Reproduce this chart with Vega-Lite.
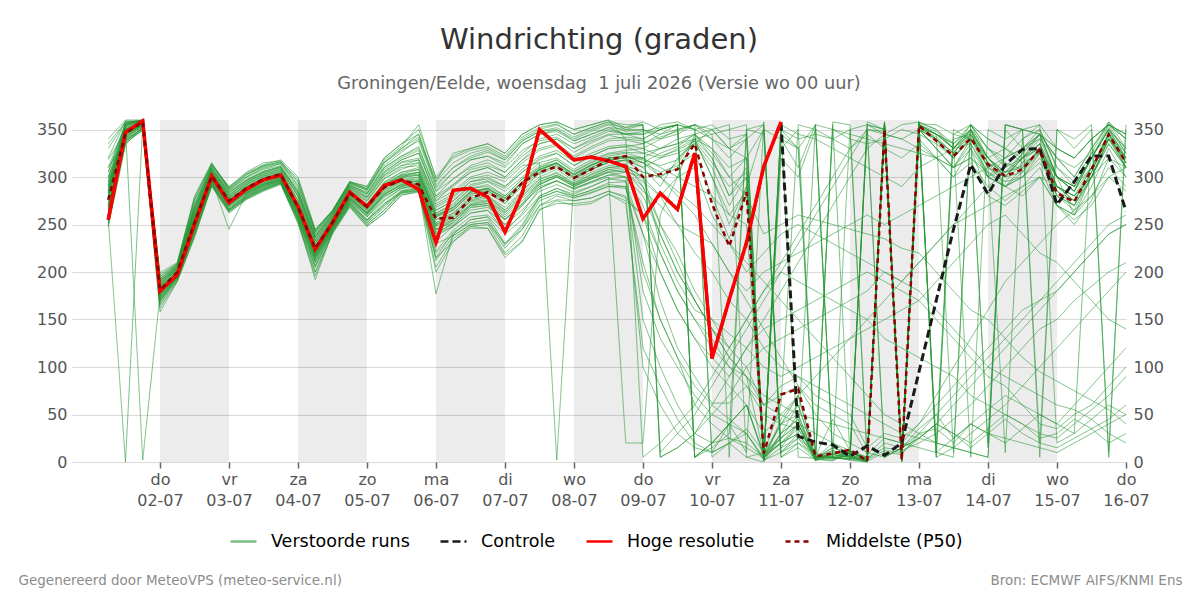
{
"$schema":"https://vega.github.io/schema/vega-lite/v6.json",
"width":1054,"height":342,
"autosize":{"type":"none"},
"padding":{"left":72,"top":120,"right":74,"bottom":138},
"background":"white",
"title":{"text":"Windrichting (graden)","subtitle":"Groningen/Eelde, woensdag\u00a0 1 juli 2026 (Versie wo 00 uur)","anchor":"middle","fontSize":29,"font":"DejaVu Sans","fontWeight":"normal","color":"#333333","subtitleFontSize":17.8,"subtitleFont":"DejaVu Sans","subtitleColor":"#666666","offset":21,"subtitlePadding":20},
"data":{"values":[
{"t":"2026-07-01T06:00Z","hr":255,"c":255,"p":276,"e1":285,"e2":262,"e3":300,"e4":248,"e5":256,"e6":290,"e7":335,"e8":255,"e9":280,"e10":270,"e11":310,"e12":250,"e13":278,"e14":295,"e15":265,"e16":283,"e17":292,"e18":260,"e19":320,"e20":272,"e21":287,"e22":258,"e23":305,"e24":268,"e25":277,"e26":340,"e27":282,"e28":266,"e29":298,"e30":252,"e31":292,"e32":270,"e33":305,"e34":262,"e35":285,"e36":318,"e37":248,"e38":276,"e39":300,"e40":288,"e41":265,"e42":330,"e43":279,"e44":295,"e45":258,"e46":284,"e47":310,"e48":272,"e49":290,"e50":268},
{"t":"2026-07-01T12:00Z","hr":347,"c":347,"p":346,"e1":348,"e2":340,"e3":355,"e4":335,"e5":0,"e6":350,"e7":358,"e8":338,"e9":352,"e10":345,"e11":356,"e12":342,"e13":347,"e14":353,"e15":336,"e16":349,"e17":357,"e18":341,"e19":359,"e20":344,"e21":351,"e22":339,"e23":355,"e24":346,"e25":348,"e26":360,"e27":350,"e28":343,"e29":354,"e30":337,"e31":350,"e32":344,"e33":357,"e34":339,"e35":353,"e36":348,"e37":334,"e38":355,"e39":346,"e40":352,"e41":341,"e42":358,"e43":349,"e44":343,"e45":356,"e46":347,"e47":338,"e48":351,"e49":354,"e50":345},
{"t":"2026-07-01T18:00Z","hr":359,"c":359,"p":358,"e1":358,"e2":354,"e3":360,"e4":350,"e5":355,"e6":357,"e7":359,"e8":352,"e9":2,"e10":356,"e11":360,"e12":353,"e13":358,"e14":359,"e15":349,"e16":357,"e17":360,"e18":355,"e19":359,"e20":356,"e21":358,"e22":351,"e23":360,"e24":354,"e25":357,"e26":360,"e27":358,"e28":355,"e29":359,"e30":352,"e31":357,"e32":355,"e33":359,"e34":351,"e35":358,"e36":356,"e37":353,"e38":360,"e39":354,"e40":357,"e41":350,"e42":359,"e43":358,"e44":352,"e45":360,"e46":355,"e47":349,"e48":357,"e49":359,"e50":354},
{"t":"2026-07-02T00:00Z","hr":180,"c":180,"p":181,"e1":182,"e2":175,"e3":190,"e4":168,"e5":178,"e6":185,"e7":195,"e8":172,"e9":176,"e10":180,"e11":188,"e12":165,"e13":183,"e14":192,"e15":170,"e16":181,"e17":189,"e18":174,"e19":197,"e20":179,"e21":186,"e22":162,"e23":191,"e24":177,"e25":184,"e26":199,"e27":181,"e28":173,"e29":187,"e30":170,"e31":185,"e32":172,"e33":193,"e34":158,"e35":180,"e36":176,"e37":188,"e38":170,"e39":195,"e40":182,"e41":166,"e42":190,"e43":178,"e44":174,"e45":186,"e46":181,"e47":169,"e48":192,"e49":177,"e50":184},
{"t":"2026-07-02T06:00Z","hr":197,"c":197,"p":200,"e1":201,"e2":197,"e3":205,"e4":193,"e5":199,"e6":203,"e7":208,"e8":195,"e9":198,"e10":200,"e11":206,"e12":191,"e13":202,"e14":207,"e15":194,"e16":200,"e17":204,"e18":196,"e19":209,"e20":198,"e21":203,"e22":190,"e23":206,"e24":197,"e25":201,"e26":210,"e27":200,"e28":195,"e29":204,"e30":193,"e31":203,"e32":196,"e33":207,"e34":190,"e35":200,"e36":198,"e37":205,"e38":194,"e39":209,"e40":201,"e41":192,"e42":206,"e43":199,"e44":197,"e45":204,"e46":202,"e47":195,"e48":208,"e49":198,"e50":200},
{"t":"2026-07-02T12:00Z","hr":250,"c":250,"p":252,"e1":255,"e2":248,"e3":265,"e4":240,"e5":252,"e6":258,"e7":275,"e8":244,"e9":250,"e10":256,"e11":268,"e12":238,"e13":254,"e14":270,"e15":246,"e16":253,"e17":262,"e18":249,"e19":280,"e20":251,"e21":259,"e22":236,"e23":266,"e24":250,"e25":255,"e26":278,"e27":254,"e28":247,"e29":263,"e30":243,"e31":260,"e32":245,"e33":272,"e34":238,"e35":255,"e36":250,"e37":268,"e38":242,"e39":276,"e40":258,"e41":240,"e42":265,"e43":252,"e44":248,"e45":262,"e46":256,"e47":244,"e48":270,"e49":251,"e50":257},
{"t":"2026-07-02T18:00Z","hr":301,"c":301,"p":301,"e1":302,"e2":298,"e3":308,"e4":292,"e5":300,"e6":304,"e7":313,"e8":295,"e9":301,"e10":303,"e11":310,"e12":290,"e13":302,"e14":312,"e15":296,"e16":300,"e17":306,"e18":297,"e19":315,"e20":299,"e21":305,"e22":291,"e23":309,"e24":298,"e25":303,"e26":314,"e27":301,"e28":296,"e29":307,"e30":294,"e31":305,"e32":296,"e33":311,"e34":292,"e35":302,"e36":299,"e37":309,"e38":294,"e39":314,"e40":303,"e41":291,"e42":308,"e43":300,"e44":297,"e45":306,"e46":304,"e47":293,"e48":312,"e49":298,"e50":301},
{"t":"2026-07-03T00:00Z","hr":273,"c":273,"p":275,"e1":276,"e2":270,"e3":282,"e4":265,"e5":274,"e6":278,"e7":288,"e8":268,"e9":275,"e10":273,"e11":285,"e12":262,"e13":276,"e14":290,"e15":266,"e16":272,"e17":280,"e18":245,"e19":287,"e20":271,"e21":279,"e22":264,"e23":284,"e24":270,"e25":275,"e26":289,"e27":273,"e28":269,"e29":281,"e30":266,"e31":279,"e32":268,"e33":286,"e34":263,"e35":276,"e36":272,"e37":284,"e38":266,"e39":289,"e40":278,"e41":264,"e42":283,"e43":274,"e44":270,"e45":281,"e46":277,"e47":265,"e48":287,"e49":271,"e50":275},
{"t":"2026-07-03T06:00Z","hr":287,"c":287,"p":288,"e1":290,"e2":283,"e3":296,"e4":278,"e5":287,"e6":292,"e7":302,"e8":280,"e9":288,"e10":286,"e11":299,"e12":276,"e13":289,"e14":304,"e15":281,"e16":285,"e17":295,"e18":282,"e19":300,"e20":284,"e21":293,"e22":277,"e23":297,"e24":283,"e25":289,"e26":305,"e27":287,"e28":282,"e29":294,"e30":279,"e31":291,"e32":281,"e33":300,"e34":277,"e35":289,"e36":285,"e37":297,"e38":279,"e39":303,"e40":292,"e41":278,"e42":296,"e43":287,"e44":283,"e45":294,"e46":290,"e47":280,"e48":302,"e49":284,"e50":288},
{"t":"2026-07-03T12:00Z","hr":297,"c":297,"p":298,"e1":298,"e2":292,"e3":305,"e4":287,"e5":296,"e6":301,"e7":312,"e8":289,"e9":297,"e10":295,"e11":308,"e12":285,"e13":299,"e14":313,"e15":290,"e16":294,"e17":303,"e18":291,"e19":310,"e20":293,"e21":302,"e22":286,"e23":306,"e24":292,"e25":298,"e26":315,"e27":296,"e28":291,"e29":304,"e30":288,"e31":300,"e32":290,"e33":309,"e34":286,"e35":298,"e36":294,"e37":306,"e38":288,"e39":312,"e40":301,"e41":287,"e42":305,"e43":296,"e44":292,"e45":303,"e46":299,"e47":289,"e48":311,"e49":293,"e50":297},
{"t":"2026-07-03T18:00Z","hr":302,"c":302,"p":303,"e1":303,"e2":298,"e3":310,"e4":293,"e5":301,"e6":306,"e7":316,"e8":295,"e9":302,"e10":300,"e11":312,"e12":292,"e13":304,"e14":318,"e15":296,"e16":299,"e17":308,"e18":297,"e19":314,"e20":298,"e21":307,"e22":294,"e23":311,"e24":297,"e25":303,"e26":317,"e27":301,"e28":296,"e29":309,"e30":294,"e31":305,"e32":297,"e33":314,"e34":293,"e35":303,"e36":299,"e37":311,"e38":295,"e39":316,"e40":306,"e41":294,"e42":310,"e43":301,"e44":298,"e45":308,"e46":304,"e47":296,"e48":315,"e49":300,"e50":302},
{"t":"2026-07-04T00:00Z","hr":269,"c":269,"p":268,"e1":270,"e2":262,"e3":282,"e4":255,"e5":268,"e6":275,"e7":290,"e8":258,"e9":269,"e10":266,"e11":285,"e12":252,"e13":271,"e14":300,"e15":260,"e16":265,"e17":279,"e18":263,"e19":288,"e20":264,"e21":276,"e22":254,"e23":283,"e24":262,"e25":270,"e26":295,"e27":267,"e28":261,"e29":280,"e30":257,"e31":272,"e32":258,"e33":292,"e34":251,"e35":268,"e36":262,"e37":286,"e38":256,"e39":298,"e40":275,"e41":254,"e42":284,"e43":266,"e44":260,"e45":280,"e46":270,"e47":257,"e48":295,"e49":264,"e50":269},
{"t":"2026-07-04T06:00Z","hr":224,"c":224,"p":225,"e1":226,"e2":218,"e3":236,"e4":205,"e5":224,"e6":230,"e7":243,"e8":212,"e9":225,"e10":221,"e11":238,"e12":200,"e13":227,"e14":245,"e15":214,"e16":220,"e17":233,"e18":216,"e19":240,"e20":219,"e21":231,"e22":192,"e23":237,"e24":217,"e25":226,"e26":244,"e27":222,"e28":215,"e29":234,"e30":210,"e31":228,"e32":210,"e33":241,"e34":196,"e35":224,"e36":216,"e37":238,"e38":205,"e39":244,"e40":230,"e41":200,"e42":236,"e43":220,"e44":213,"e45":233,"e46":226,"e47":207,"e48":242,"e49":218,"e50":223},
{"t":"2026-07-04T12:00Z","hr":252,"c":252,"p":252,"e1":253,"e2":248,"e3":260,"e4":243,"e5":251,"e6":256,"e7":264,"e8":245,"e9":252,"e10":250,"e11":262,"e12":240,"e13":254,"e14":265,"e15":246,"e16":249,"e17":258,"e18":247,"e19":263,"e20":248,"e21":257,"e22":242,"e23":261,"e24":247,"e25":253,"e26":264,"e27":251,"e28":246,"e29":259,"e30":244,"e31":255,"e32":245,"e33":263,"e34":241,"e35":252,"e36":248,"e37":261,"e38":243,"e39":265,"e40":256,"e41":242,"e42":260,"e43":250,"e44":247,"e45":258,"e46":254,"e47":244,"e48":264,"e49":249,"e50":253},
{"t":"2026-07-04T18:00Z","hr":284,"c":284,"p":283,"e1":283,"e2":278,"e3":290,"e4":270,"e5":281,"e6":286,"e7":294,"e8":273,"e9":282,"e10":280,"e11":292,"e12":268,"e13":284,"e14":295,"e15":275,"e16":279,"e17":288,"e18":276,"e19":293,"e20":277,"e21":287,"e22":271,"e23":291,"e24":277,"e25":283,"e26":295,"e27":281,"e28":275,"e29":289,"e30":272,"e31":285,"e32":274,"e33":294,"e34":269,"e35":282,"e36":278,"e37":291,"e38":272,"e39":295,"e40":286,"e41":270,"e42":290,"e43":280,"e44":276,"e45":288,"e46":284,"e47":273,"e48":293,"e49":279,"e50":283},
{"t":"2026-07-05T00:00Z","hr":269,"c":269,"p":269,"e1":270,"e2":262,"e3":280,"e4":250,"e5":266,"e6":275,"e7":288,"e8":255,"e9":268,"e10":264,"e11":283,"e12":248,"e13":271,"e14":290,"e15":258,"e16":263,"e17":278,"e18":260,"e19":286,"e20":262,"e21":276,"e22":252,"e23":282,"e24":261,"e25":269,"e26":287,"e27":266,"e28":259,"e29":279,"e30":254,"e31":272,"e32":255,"e33":288,"e34":248,"e35":267,"e36":262,"e37":284,"e38":252,"e39":290,"e40":274,"e41":250,"e42":282,"e43":265,"e44":258,"e45":278,"e46":270,"e47":254,"e48":286,"e49":261,"e50":268},
{"t":"2026-07-05T06:00Z","hr":291,"c":291,"p":289,"e1":292,"e2":283,"e3":305,"e4":265,"e5":290,"e6":298,"e7":318,"e8":275,"e9":291,"e10":287,"e11":310,"e12":262,"e13":294,"e14":320,"e15":278,"e16":285,"e17":302,"e18":281,"e19":315,"e20":284,"e21":300,"e22":270,"e23":308,"e24":282,"e25":292,"e26":316,"e27":288,"e28":280,"e29":304,"e30":272,"e31":295,"e32":270,"e33":315,"e34":262,"e35":290,"e36":282,"e37":310,"e38":268,"e39":320,"e40":298,"e41":265,"e42":306,"e43":286,"e44":276,"e45":302,"e46":293,"e47":272,"e48":312,"e49":280,"e50":289},
{"t":"2026-07-05T12:00Z","hr":297,"c":297,"p":297,"e1":302,"e2":292,"e3":318,"e4":284,"e5":300,"e6":310,"e7":332,"e8":288,"e9":301,"e10":296,"e11":322,"e12":281,"e13":305,"e14":335,"e15":290,"e16":295,"e17":315,"e18":293,"e19":328,"e20":294,"e21":312,"e22":285,"e23":320,"e24":291,"e25":302,"e26":330,"e27":298,"e28":289,"e29":316,"e30":283,"e31":305,"e32":285,"e33":330,"e34":281,"e35":300,"e36":292,"e37":322,"e38":284,"e39":335,"e40":308,"e41":283,"e42":318,"e43":296,"e44":288,"e45":312,"e46":303,"e47":286,"e48":326,"e49":290,"e50":299},
{"t":"2026-07-05T18:00Z","hr":287,"c":287,"p":292,"e1":305,"e2":292,"e3":325,"e4":286,"e5":302,"e6":312,"e7":355,"e8":290,"e9":303,"e10":298,"e11":330,"e12":284,"e13":308,"e14":345,"e15":294,"e16":297,"e17":318,"e18":296,"e19":338,"e20":295,"e21":315,"e22":288,"e23":328,"e24":293,"e25":305,"e26":342,"e27":300,"e28":291,"e29":320,"e30":285,"e31":310,"e32":288,"e33":345,"e34":285,"e35":305,"e36":296,"e37":332,"e38":287,"e39":350,"e40":315,"e41":286,"e42":325,"e43":300,"e44":292,"e45":318,"e46":308,"e47":289,"e48":340,"e49":294,"e50":302},
{"t":"2026-07-06T00:00Z","hr":231,"c":231,"p":256,"e1":260,"e2":248,"e3":278,"e4":230,"e5":258,"e6":265,"e7":298,"e8":238,"e9":259,"e10":252,"e11":285,"e12":215,"e13":262,"e14":290,"e15":242,"e16":250,"e17":272,"e18":245,"e19":288,"e20":249,"e21":268,"e22":177,"e23":280,"e24":244,"e25":260,"e26":295,"e27":255,"e28":240,"e29":275,"e30":222,"e31":265,"e32":220,"e33":295,"e34":200,"e35":258,"e36":245,"e37":285,"e38":212,"e39":300,"e40":270,"e41":205,"e42":280,"e43":250,"e44":232,"e45":275,"e46":262,"e47":215,"e48":292,"e49":240,"e50":255},
{"t":"2026-07-06T06:00Z","hr":286,"c":286,"p":257,"e1":268,"e2":255,"e3":290,"e4":238,"e5":265,"e6":275,"e7":320,"e8":248,"e9":266,"e10":260,"e11":298,"e12":232,"e13":270,"e14":310,"e15":250,"e16":258,"e17":282,"e18":252,"e19":305,"e20":257,"e21":278,"e22":240,"e23":292,"e24":254,"e25":268,"e26":325,"e27":262,"e28":248,"e29":285,"e30":244,"e31":275,"e32":240,"e33":315,"e34":232,"e35":268,"e36":255,"e37":305,"e38":238,"e39":322,"e40":280,"e41":235,"e42":298,"e43":262,"e44":248,"e45":292,"e46":272,"e47":242,"e48":310,"e49":252,"e50":265},
{"t":"2026-07-06T12:00Z","hr":288,"c":288,"p":278,"e1":285,"e2":272,"e3":305,"e4":250,"e5":282,"e6":292,"e7":328,"e8":262,"e9":284,"e10":278,"e11":312,"e12":248,"e13":288,"e14":320,"e15":265,"e16":275,"e17":298,"e18":270,"e19":318,"e20":274,"e21":295,"e22":255,"e23":308,"e24":271,"e25":285,"e26":330,"e27":280,"e28":268,"e29":300,"e30":258,"e31":290,"e32":255,"e33":325,"e34":246,"e35":284,"e36":270,"e37":318,"e38":250,"e39":330,"e40":295,"e41":248,"e42":310,"e43":276,"e44":262,"e45":305,"e46":288,"e47":252,"e48":322,"e49":268,"e50":282},
{"t":"2026-07-06T18:00Z","hr":279,"c":279,"p":284,"e1":288,"e2":275,"e3":310,"e4":252,"e5":285,"e6":296,"e7":332,"e8":265,"e9":287,"e10":280,"e11":318,"e12":246,"e13":290,"e14":326,"e15":268,"e16":278,"e17":302,"e18":272,"e19":322,"e20":276,"e21":298,"e22":258,"e23":312,"e24":274,"e25":288,"e26":335,"e27":283,"e28":270,"e29":305,"e30":260,"e31":295,"e32":258,"e33":330,"e34":246,"e35":288,"e36":272,"e37":322,"e38":252,"e39":335,"e40":300,"e41":250,"e42":315,"e43":280,"e44":265,"e45":310,"e46":292,"e47":255,"e48":328,"e49":270,"e50":286},
{"t":"2026-07-07T00:00Z","hr":242,"c":242,"p":274,"e1":278,"e2":262,"e3":300,"e4":230,"e5":275,"e6":288,"e7":322,"e8":250,"e9":277,"e10":268,"e11":310,"e12":218,"e13":280,"e14":318,"e15":255,"e16":265,"e17":295,"e18":258,"e19":315,"e20":263,"e21":290,"e22":240,"e23":305,"e24":260,"e25":278,"e26":325,"e27":272,"e28":256,"e29":298,"e30":245,"e31":285,"e32":230,"e33":320,"e34":215,"e35":275,"e36":255,"e37":312,"e38":225,"e39":325,"e40":290,"e41":220,"e42":305,"e43":265,"e44":242,"e45":300,"e46":280,"e47":228,"e48":318,"e49":250,"e50":272},
{"t":"2026-07-07T06:00Z","hr":283,"c":283,"p":294,"e1":295,"e2":280,"e3":318,"e4":245,"e5":292,"e6":305,"e7":342,"e8":265,"e9":294,"e10":286,"e11":328,"e12":232,"e13":298,"e14":338,"e15":270,"e16":283,"e17":312,"e18":275,"e19":335,"e20":281,"e21":308,"e22":255,"e23":322,"e24":278,"e25":295,"e26":345,"e27":290,"e28":272,"e29":315,"e30":260,"e31":300,"e32":250,"e33":340,"e34":232,"e35":295,"e36":272,"e37":335,"e38":245,"e39":345,"e40":305,"e41":238,"e42":325,"e43":285,"e44":262,"e45":318,"e46":298,"e47":248,"e48":338,"e49":270,"e50":292},
{"t":"2026-07-07T12:00Z","hr":350,"c":350,"p":305,"e1":308,"e2":295,"e3":330,"e4":270,"e5":305,"e6":318,"e7":352,"e8":285,"e9":307,"e10":300,"e11":338,"e12":265,"e13":310,"e14":348,"e15":290,"e16":298,"e17":315,"e18":292,"e19":345,"e20":297,"e21":322,"e22":278,"e23":335,"e24":293,"e25":308,"e26":355,"e27":303,"e28":288,"e29":328,"e30":280,"e31":315,"e32":280,"e33":350,"e34":266,"e35":310,"e36":295,"e37":345,"e38":275,"e39":355,"e40":320,"e41":270,"e42":340,"e43":305,"e44":288,"e45":335,"e46":312,"e47":278,"e48":348,"e49":292,"e50":308},
{"t":"2026-07-07T18:00Z","hr":334,"c":334,"p":311,"e1":315,"e2":302,"e3":335,"e4":280,"e5":312,"e6":325,"e7":356,"e8":292,"e9":314,"e10":308,"e11":342,"e12":275,"e13":318,"e14":350,"e15":296,"e16":305,"e17":2,"e18":300,"e19":348,"e20":304,"e21":328,"e22":285,"e23":340,"e24":301,"e25":315,"e26":358,"e27":310,"e28":296,"e29":333,"e30":288,"e31":320,"e32":288,"e33":355,"e34":272,"e35":315,"e36":302,"e37":350,"e38":282,"e39":358,"e40":325,"e41":276,"e42":345,"e43":312,"e44":296,"e45":340,"e46":318,"e47":285,"e48":352,"e49":300,"e50":314},
{"t":"2026-07-08T00:00Z","hr":318,"c":318,"p":299,"e1":303,"e2":292,"e3":322,"e4":275,"e5":300,"e6":312,"e7":345,"e8":284,"e9":302,"e10":296,"e11":330,"e12":270,"e13":306,"e14":340,"e15":288,"e16":294,"e17":298,"e18":290,"e19":338,"e20":293,"e21":316,"e22":278,"e23":326,"e24":291,"e25":303,"e26":350,"e27":299,"e28":287,"e29":320,"e30":280,"e31":308,"e32":282,"e33":345,"e34":272,"e35":302,"e36":292,"e37":338,"e38":278,"e39":350,"e40":312,"e41":275,"e42":335,"e43":298,"e44":288,"e45":330,"e46":305,"e47":280,"e48":342,"e49":290,"e50":300},
{"t":"2026-07-08T06:00Z","hr":321,"c":321,"p":308,"e1":313,"e2":300,"e3":332,"e4":278,"e5":310,"e6":322,"e7":352,"e8":290,"e9":312,"e10":305,"e11":340,"e12":272,"e13":316,"e14":348,"e15":295,"e16":303,"e17":308,"e18":298,"e19":345,"e20":302,"e21":325,"e22":283,"e23":336,"e24":299,"e25":313,"e26":355,"e27":308,"e28":294,"e29":330,"e30":286,"e31":318,"e32":290,"e33":352,"e34":274,"e35":312,"e36":300,"e37":345,"e38":284,"e39":355,"e40":322,"e41":278,"e42":342,"e43":308,"e44":295,"e45":338,"e46":315,"e47":286,"e48":350,"e49":298,"e50":310},
{"t":"2026-07-08T12:00Z","hr":317,"c":317,"p":318,"e1":320,"e2":308,"e3":340,"e4":285,"e5":318,"e6":330,"e7":358,"e8":298,"e9":320,"e10":312,"e11":348,"e12":282,"e13":324,"e14":355,"e15":302,"e16":310,"e17":315,"e18":305,"e19":352,"e20":310,"e21":332,"e22":290,"e23":344,"e24":306,"e25":320,"e26":360,"e27":316,"e28":300,"e29":338,"e30":292,"e31":325,"e32":298,"e33":358,"e34":282,"e35":320,"e36":308,"e37":352,"e38":290,"e39":360,"e40":330,"e41":285,"e42":350,"e43":315,"e44":302,"e45":345,"e46":322,"e47":294,"e48":356,"e49":305,"e50":318},
{"t":"2026-07-08T18:00Z","hr":311,"c":311,"p":322,"e1":322,"e2":310,"e3":342,"e4":278,"e5":320,"e6":332,"e7":350,"e8":296,"e9":321,"e10":314,"e11":346,"e12":272,"e13":326,"e14":348,"e15":300,"e16":312,"e17":318,"e18":306,"e19":345,"e20":311,"e21":334,"e22":288,"e23":340,"e24":308,"e25":322,"e26":352,"e27":317,"e28":20,"e29":339,"e30":290,"e31":328,"e32":300,"e33":355,"e34":275,"e35":322,"e36":305,"e37":350,"e38":290,"e39":340,"e40":332,"e41":280,"e42":345,"e43":318,"e44":305,"e45":345,"e46":325,"e47":295,"e48":352,"e49":300,"e50":320},
{"t":"2026-07-09T00:00Z","hr":256,"c":256,"p":300,"e1":315,"e2":300,"e3":340,"e4":260,"e5":320,"e6":335,"e7":355,"e8":150,"e9":318,"e10":290,"e11":345,"e12":120,"e13":325,"e14":350,"e15":270,"e16":305,"e17":310,"e18":285,"e19":348,"e20":300,"e21":330,"e22":240,"e23":338,"e24":295,"e25":315,"e26":358,"e27":305,"e28":20,"e29":335,"e30":210,"e31":330,"e32":180,"e33":355,"e34":260,"e35":320,"e36":300,"e37":350,"e38":200,"e39":5,"e40":325,"e41":100,"e42":340,"e43":315,"e44":290,"e45":345,"e46":320,"e47":240,"e48":355,"e49":280,"e50":310},
{"t":"2026-07-09T06:00Z","hr":283,"c":283,"p":303,"e1":325,"e2":250,"e3":350,"e4":200,"e5":330,"e6":345,"e7":5,"e8":100,"e9":312,"e10":240,"e11":355,"e12":80,"e13":320,"e14":340,"e15":220,"e16":300,"e17":290,"e18":270,"e19":352,"e20":230,"e21":322,"e22":170,"e23":330,"e24":280,"e25":305,"e26":350,"e27":300,"e28":260,"e29":342,"e30":150,"e31":340,"e32":130,"e33":5,"e34":220,"e35":300,"e36":280,"e37":345,"e38":150,"e39":20,"e40":330,"e41":60,"e42":350,"e43":300,"e44":250,"e45":350,"e46":310,"e47":200,"e48":10,"e49":240,"e50":320},
{"t":"2026-07-09T12:00Z","hr":266,"c":266,"p":308,"e1":332,"e2":220,"e3":355,"e4":160,"e5":335,"e6":350,"e7":15,"e8":60,"e9":318,"e10":200,"e11":358,"e12":45,"e13":325,"e14":345,"e15":180,"e16":310,"e17":320,"e18":250,"e19":355,"e20":190,"e21":328,"e22":120,"e23":335,"e24":300,"e25":312,"e26":355,"e27":315,"e28":300,"e29":348,"e30":110,"e31":350,"e32":100,"e33":15,"e34":180,"e35":280,"e36":250,"e37":355,"e38":110,"e39":40,"e40":340,"e41":30,"e42":355,"e43":285,"e44":210,"e45":355,"e46":300,"e47":160,"e48":30,"e49":200,"e50":330},
{"t":"2026-07-09T18:00Z","hr":325,"c":325,"p":335,"e1":345,"e2":180,"e3":5,"e4":130,"e5":340,"e6":355,"e7":30,"e8":30,"e9":340,"e10":170,"e11":350,"e12":20,"e13":335,"e14":355,"e15":150,"e16":338,"e17":335,"e18":240,"e19":5,"e20":160,"e21":338,"e22":90,"e23":345,"e24":310,"e25":325,"e26":350,"e27":340,"e28":345,"e29":355,"e30":60,"e31":355,"e32":70,"e33":30,"e34":150,"e35":260,"e36":220,"e37":5,"e38":80,"e39":60,"e40":345,"e41":15,"e42":5,"e43":270,"e44":170,"e45":350,"e46":290,"e47":130,"e48":50,"e49":170,"e50":340},
{"t":"2026-07-10T00:00Z","hr":109,"c":109,"p":272,"e1":320,"e2":150,"e3":15,"e4":110,"e5":300,"e6":340,"e7":50,"e8":20,"e9":330,"e10":140,"e11":10,"e12":10,"e13":310,"e14":345,"e15":120,"e16":300,"e17":350,"e18":230,"e19":20,"e20":150,"e21":315,"e22":62,"e23":330,"e24":260,"e25":280,"e26":355,"e27":320,"e28":325,"e29":350,"e30":40,"e31":5,"e32":50,"e33":60,"e34":130,"e35":230,"e36":200,"e37":20,"e38":60,"e39":90,"e40":350,"e41":10,"e42":20,"e43":250,"e44":140,"e45":340,"e46":280,"e47":100,"e48":80,"e49":140,"e50":345},
{"t":"2026-07-10T06:00Z","hr":171,"c":171,"p":227,"e1":280,"e2":120,"e3":30,"e4":90,"e5":250,"e6":320,"e7":70,"e8":25,"e9":310,"e10":120,"e11":20,"e12":40,"e13":270,"e14":5,"e15":100,"e16":260,"e17":330,"e18":200,"e19":40,"e20":135,"e21":290,"e22":62,"e23":300,"e24":230,"e25":235,"e26":340,"e27":280,"e28":300,"e29":330,"e30":25,"e31":20,"e32":40,"e33":90,"e34":100,"e35":200,"e36":170,"e37":40,"e38":45,"e39":120,"e40":355,"e41":20,"e42":40,"e43":230,"e44":110,"e45":330,"e46":260,"e47":80,"e48":110,"e49":110,"e50":350},
{"t":"2026-07-10T12:00Z","hr":231,"c":231,"p":284,"e1":310,"e2":100,"e3":350,"e4":120,"e5":290,"e6":340,"e7":100,"e8":20,"e9":320,"e10":150,"e11":5,"e12":60,"e13":300,"e14":350,"e15":90,"e16":285,"e17":345,"e18":180,"e19":10,"e20":120,"e21":305,"e22":80,"e23":320,"e24":200,"e25":290,"e26":345,"e27":300,"e28":280,"e29":340,"e30":15,"e31":35,"e32":30,"e33":120,"e34":80,"e35":170,"e36":150,"e37":60,"e38":30,"e39":150,"e40":5,"e41":30,"e42":60,"e43":210,"e44":90,"e45":320,"e46":250,"e47":60,"e48":140,"e49":90,"e50":355},
{"t":"2026-07-10T18:00Z","hr":311,"c":311,"p":9,"e1":5,"e2":60,"e3":355,"e4":140,"e5":3,"e6":2,"e7":120,"e8":5,"e9":8,"e10":180,"e11":0,"e12":8,"e13":6,"e14":345,"e15":60,"e16":1,"e17":4,"e18":200,"e19":358,"e20":100,"e21":7,"e22":50,"e23":2,"e24":220,"e25":350,"e26":9,"e27":3,"e28":240,"e29":355,"e30":4,"e31":10,"e32":5,"e33":150,"e34":60,"e35":140,"e36":120,"e37":5,"e38":2,"e39":180,"e40":10,"e41":3,"e42":8,"e43":190,"e44":70,"e45":350,"e46":4,"e47":30,"e48":170,"e49":8,"e50":2},
{"t":"2026-07-11T00:00Z","hr":358,"c":358,"p":71,"e1":20,"e2":80,"e3":10,"e4":150,"e5":340,"e6":355,"e7":130,"e8":40,"e9":350,"e10":200,"e11":30,"e12":20,"e13":320,"e14":5,"e15":70,"e16":345,"e17":25,"e18":210,"e19":10,"e20":90,"e21":330,"e22":40,"e23":350,"e24":240,"e25":15,"e26":60,"e27":355,"e28":250,"e29":5,"e30":30,"e31":40,"e32":20,"e33":180,"e34":50,"e35":110,"e36":100,"e37":30,"e38":15,"e39":210,"e40":25,"e41":45,"e42":25,"e43":170,"e44":60,"e45":340,"e46":20,"e47":50,"e48":200,"e49":40,"e50":10},
{"t":"2026-07-11T06:00Z","c":27,"p":77,"e1":40,"e2":90,"e3":25,"e4":160,"e5":310,"e6":5,"e7":140,"e8":50,"e9":330,"e10":190,"e11":45,"e12":30,"e13":300,"e14":20,"e15":80,"e16":330,"e17":50,"e18":220,"e19":30,"e20":100,"e21":350,"e22":35,"e23":340,"e24":250,"e25":40,"e26":355,"e27":345,"e28":260,"e29":15,"e30":45,"e31":60,"e32":30,"e33":210,"e34":40,"e35":80,"e36":90,"e37":60,"e38":25,"e39":240,"e40":40,"e41":70,"e42":40,"e43":150,"e44":50,"e45":330,"e46":35,"e47":70,"e48":230,"e49":70,"e50":20},
{"t":"2026-07-11T12:00Z","c":21,"p":6,"e1":5,"e2":70,"e3":3,"e4":170,"e5":355,"e6":4,"e7":150,"e8":4,"e9":2,"e10":180,"e11":1,"e12":5,"e13":350,"e14":3,"e15":60,"e16":5,"e17":2,"e18":230,"e19":355,"e20":110,"e21":6,"e22":5,"e23":345,"e24":240,"e25":3,"e26":350,"e27":340,"e28":255,"e29":2,"e30":6,"e31":5,"e32":3,"e33":240,"e34":30,"e35":50,"e36":80,"e37":4,"e38":10,"e39":270,"e40":2,"e41":6,"e42":3,"e43":130,"e44":45,"e45":355,"e46":5,"e47":90,"e48":260,"e49":3,"e50":8},
{"t":"2026-07-11T18:00Z","c":18,"p":9,"e1":6,"e2":60,"e3":2,"e4":180,"e5":5,"e6":20,"e7":160,"e8":8,"e9":355,"e10":170,"e11":7,"e12":4,"e13":340,"e14":9,"e15":50,"e16":4,"e17":350,"e18":240,"e19":5,"e20":120,"e21":8,"e22":3,"e23":340,"e24":230,"e25":1,"e26":5,"e27":330,"e28":250,"e29":358,"e30":45,"e31":15,"e32":8,"e33":270,"e34":20,"e35":30,"e36":70,"e37":12,"e38":5,"e39":300,"e40":10,"e41":5,"e42":5,"e43":110,"e44":40,"e45":350,"e46":12,"e47":110,"e48":290,"e49":15,"e50":4},
{"t":"2026-07-12T00:00Z","c":6,"p":13,"e1":10,"e2":50,"e3":9,"e4":190,"e5":6,"e6":8,"e7":170,"e8":5,"e9":5,"e10":160,"e11":350,"e12":10,"e13":330,"e14":11,"e15":40,"e16":4,"e17":340,"e18":250,"e19":3,"e20":130,"e21":12,"e22":7,"e23":350,"e24":220,"e25":12,"e26":2,"e27":320,"e28":245,"e29":355,"e30":12,"e31":8,"e32":4,"e33":300,"e34":12,"e35":20,"e36":60,"e37":6,"e38":3,"e39":330,"e40":5,"e41":10,"e42":2,"e43":90,"e44":35,"e45":345,"e46":6,"e47":130,"e48":320,"e49":10,"e50":7},
{"t":"2026-07-12T06:00Z","c":17,"p":1,"e1":2,"e2":15,"e3":355,"e4":200,"e5":0,"e6":350,"e7":180,"e8":1,"e9":355,"e10":150,"e11":1,"e12":4,"e13":345,"e14":5,"e15":8,"e16":2,"e17":335,"e18":260,"e19":358,"e20":140,"e21":1,"e22":3,"e23":355,"e24":210,"e25":0,"e26":350,"e27":310,"e28":240,"e29":2,"e30":3,"e31":2,"e32":1,"e33":330,"e34":5,"e35":10,"e36":50,"e37":1,"e38":0,"e39":350,"e40":2,"e41":3,"e42":0,"e43":70,"e44":30,"e45":340,"e46":1,"e47":150,"e48":350,"e49":4,"e50":2},
{"t":"2026-07-12T12:00Z","c":7,"p":350,"e1":355,"e2":30,"e3":350,"e4":190,"e5":358,"e6":345,"e7":200,"e8":10,"e9":350,"e10":130,"e11":355,"e12":15,"e13":330,"e14":352,"e15":25,"e16":356,"e17":340,"e18":250,"e19":350,"e20":150,"e21":358,"e22":12,"e23":345,"e24":200,"e25":355,"e26":348,"e27":300,"e28":235,"e29":350,"e30":20,"e31":355,"e32":350,"e33":345,"e34":358,"e35":5,"e36":40,"e37":352,"e38":356,"e39":5,"e40":350,"e41":355,"e42":348,"e43":50,"e44":25,"e45":335,"e46":353,"e47":170,"e48":5,"e49":350,"e50":356},
{"t":"2026-07-12T18:00Z","c":20,"p":2,"e1":3,"e2":25,"e3":1,"e4":180,"e5":2,"e6":355,"e7":190,"e8":8,"e9":4,"e10":120,"e11":0,"e12":12,"e13":320,"e14":2,"e15":20,"e16":1,"e17":350,"e18":260,"e19":5,"e20":160,"e21":3,"e22":10,"e23":340,"e24":190,"e25":2,"e26":5,"e27":290,"e28":225,"e29":1,"e30":15,"e31":4,"e32":2,"e33":340,"e34":6,"e35":15,"e36":30,"e37":5,"e38":3,"e39":15,"e40":2,"e41":6,"e42":4,"e43":40,"e44":20,"e45":330,"e46":3,"e47":190,"e48":15,"e49":5,"e50":1},
{"t":"2026-07-13T00:00Z","c":95,"p":354,"e1":350,"e2":40,"e3":355,"e4":170,"e5":350,"e6":358,"e7":210,"e8":30,"e9":355,"e10":110,"e11":358,"e12":20,"e13":335,"e14":355,"e15":40,"e16":350,"e17":345,"e18":270,"e19":357,"e20":170,"e21":352,"e22":25,"e23":350,"e24":180,"e25":352,"e26":356,"e27":310,"e28":220,"e29":358,"e30":35,"e31":350,"e32":355,"e33":330,"e34":352,"e35":25,"e36":25,"e37":345,"e38":358,"e39":25,"e40":350,"e41":340,"e42":352,"e43":30,"e44":15,"e45":325,"e46":355,"e47":210,"e48":30,"e49":355,"e50":350},
{"t":"2026-07-13T06:00Z","c":170,"p":338,"e1":340,"e2":60,"e3":345,"e4":150,"e5":330,"e6":350,"e7":230,"e8":35,"e9":348,"e10":100,"e11":5,"e12":30,"e13":320,"e14":345,"e15":70,"e16":340,"e17":20,"e18":280,"e19":350,"e20":190,"e21":342,"e22":40,"e23":338,"e24":160,"e25":345,"e26":355,"e27":320,"e28":200,"e29":10,"e30":50,"e31":330,"e32":340,"e33":320,"e34":340,"e35":40,"e36":20,"e37":335,"e38":5,"e39":40,"e40":330,"e41":320,"e42":345,"e43":20,"e44":10,"e45":320,"e46":345,"e47":230,"e48":50,"e49":345,"e50":10},
{"t":"2026-07-13T12:00Z","c":245,"p":322,"e1":320,"e2":80,"e3":330,"e4":130,"e5":310,"e6":335,"e7":250,"e8":20,"e9":330,"e10":90,"e11":340,"e12":45,"e13":300,"e14":10,"e15":100,"e16":325,"e17":350,"e18":290,"e19":330,"e20":210,"e21":325,"e22":30,"e23":320,"e24":140,"e25":335,"e26":345,"e27":330,"e28":180,"e29":345,"e30":25,"e31":310,"e32":325,"e33":310,"e34":320,"e35":60,"e36":15,"e37":320,"e38":15,"e39":30,"e40":310,"e41":300,"e42":335,"e43":15,"e44":5,"e45":310,"e46":330,"e47":250,"e48":70,"e49":330,"e50":25},
{"t":"2026-07-13T18:00Z","c":313,"p":341,"e1":345,"e2":100,"e3":350,"e4":110,"e5":340,"e6":5,"e7":270,"e8":40,"e9":355,"e10":70,"e11":345,"e12":60,"e13":330,"e14":355,"e15":130,"e16":350,"e17":340,"e18":300,"e19":345,"e20":230,"e21":348,"e22":15,"e23":342,"e24":120,"e25":350,"e26":355,"e27":335,"e28":160,"e29":340,"e30":40,"e31":330,"e32":345,"e33":320,"e34":340,"e35":80,"e36":10,"e37":340,"e38":30,"e39":20,"e40":335,"e41":315,"e42":355,"e43":10,"e44":355,"e45":320,"e46":350,"e47":260,"e48":90,"e49":350,"e50":40},
{"t":"2026-07-14T00:00Z","c":282,"p":313,"e1":310,"e2":120,"e3":300,"e4":90,"e5":320,"e6":350,"e7":290,"e8":30,"e9":320,"e10":60,"e11":310,"e12":80,"e13":280,"e14":330,"e15":160,"e16":315,"e17":20,"e18":310,"e19":315,"e20":250,"e21":320,"e22":30,"e23":300,"e24":100,"e25":330,"e26":340,"e27":300,"e28":150,"e29":15,"e30":55,"e31":300,"e32":320,"e33":300,"e34":315,"e35":100,"e36":5,"e37":310,"e38":45,"e39":35,"e40":305,"e41":290,"e42":330,"e43":5,"e44":340,"e45":305,"e46":320,"e47":270,"e48":110,"e49":320,"e50":30},
{"t":"2026-07-14T06:00Z","c":313,"p":301,"e1":300,"e2":140,"e3":320,"e4":80,"e5":330,"e6":340,"e7":305,"e8":25,"e9":305,"e10":50,"e11":10,"e12":100,"e13":270,"e14":320,"e15":190,"e16":305,"e17":355,"e18":320,"e19":290,"e20":260,"e21":300,"e22":45,"e23":310,"e24":90,"e25":315,"e26":330,"e27":290,"e28":130,"e29":350,"e30":70,"e31":290,"e32":300,"e33":290,"e34":300,"e35":120,"e36":355,"e37":295,"e38":60,"e39":50,"e40":290,"e41":275,"e42":310,"e43":355,"e44":330,"e45":295,"e46":305,"e47":280,"e48":130,"e49":300,"e50":20},
{"t":"2026-07-14T12:00Z","c":329,"p":308,"e1":320,"e2":160,"e3":340,"e4":60,"e5":315,"e6":350,"e7":320,"e8":20,"e9":310,"e10":40,"e11":340,"e12":120,"e13":285,"e14":330,"e15":210,"e16":312,"e17":350,"e18":330,"e19":300,"e20":240,"e21":305,"e22":30,"e23":320,"e24":80,"e25":308,"e26":350,"e27":280,"e28":110,"e29":330,"e30":60,"e31":305,"e32":320,"e33":300,"e34":320,"e35":140,"e36":350,"e37":315,"e38":80,"e39":40,"e40":310,"e41":290,"e42":330,"e43":350,"e44":320,"e45":300,"e46":325,"e47":290,"e48":150,"e49":325,"e50":35},
{"t":"2026-07-14T18:00Z","c":330,"p":329,"e1":335,"e2":170,"e3":355,"e4":50,"e5":325,"e6":5,"e7":330,"e8":15,"e9":330,"e10":30,"e11":350,"e12":140,"e13":300,"e14":345,"e15":230,"e16":328,"e17":20,"e18":340,"e19":325,"e20":220,"e21":330,"e22":20,"e23":335,"e24":70,"e25":328,"e26":355,"e27":300,"e28":95,"e29":345,"e30":40,"e31":325,"e32":340,"e33":320,"e34":345,"e35":160,"e36":345,"e37":335,"e38":100,"e39":25,"e40":330,"e41":310,"e42":350,"e43":345,"e44":330,"e45":315,"e46":345,"e47":300,"e48":170,"e49":345,"e50":50},
{"t":"2026-07-15T00:00Z","c":271,"p":283,"e1":290,"e2":180,"e3":20,"e4":40,"e5":280,"e6":350,"e7":300,"e8":10,"e9":285,"e10":25,"e11":310,"e12":150,"e13":270,"e14":320,"e15":250,"e16":270,"e17":350,"e18":320,"e19":300,"e20":210,"e21":290,"e22":15,"e23":300,"e24":60,"e25":280,"e26":330,"e27":270,"e28":85,"e29":320,"e30":35,"e31":280,"e32":300,"e33":290,"e34":300,"e35":180,"e36":330,"e37":290,"e38":120,"e39":30,"e40":285,"e41":270,"e42":310,"e43":330,"e44":300,"e45":290,"e46":300,"e47":290,"e48":190,"e49":300,"e50":40},
{"t":"2026-07-15T06:00Z","c":295,"p":274,"e1":280,"e2":200,"e3":30,"e4":60,"e5":270,"e6":330,"e7":260,"e8":20,"e9":275,"e10":40,"e11":290,"e12":170,"e13":250,"e14":300,"e15":265,"e16":260,"e17":340,"e18":310,"e19":285,"e20":190,"e21":275,"e22":25,"e23":290,"e24":55,"e25":265,"e26":320,"e27":255,"e28":75,"e29":300,"e30":50,"e31":270,"e32":285,"e33":280,"e34":290,"e35":200,"e36":320,"e37":275,"e38":140,"e39":45,"e40":270,"e41":260,"e42":295,"e43":320,"e44":290,"e45":280,"e46":285,"e47":280,"e48":210,"e49":285,"e50":30},
{"t":"2026-07-15T12:00Z","c":322,"p":308,"e1":310,"e2":220,"e3":340,"e4":80,"e5":300,"e6":350,"e7":280,"e8":30,"e9":305,"e10":55,"e11":320,"e12":185,"e13":275,"e14":330,"e15":280,"e16":300,"e17":355,"e18":325,"e19":310,"e20":170,"e21":305,"e22":35,"e23":320,"e24":45,"e25":300,"e26":340,"e27":270,"e28":65,"e29":330,"e30":60,"e31":300,"e32":320,"e33":300,"e34":320,"e35":220,"e36":340,"e37":310,"e38":160,"e39":35,"e40":305,"e41":290,"e42":325,"e43":340,"e44":310,"e45":300,"e46":320,"e47":300,"e48":230,"e49":320,"e50":45},
{"t":"2026-07-15T18:00Z","c":322,"p":345,"e1":345,"e2":240,"e3":355,"e4":100,"e5":340,"e6":5,"e7":310,"e8":40,"e9":348,"e10":70,"e11":350,"e12":200,"e13":320,"e14":358,"e15":300,"e16":342,"e17":10,"e18":340,"e19":345,"e20":150,"e21":345,"e22":45,"e23":350,"e24":30,"e25":340,"e26":355,"e27":300,"e28":55,"e29":355,"e30":80,"e31":340,"e32":350,"e33":335,"e34":355,"e35":240,"e36":355,"e37":345,"e38":180,"e39":20,"e40":345,"e41":330,"e42":358,"e43":355,"e44":340,"e45":335,"e46":350,"e47":320,"e48":250,"e49":352,"e50":60},
{"t":"2026-07-16T00:00Z","c":264,"p":315,"e1":320,"e2":250,"e3":340,"e4":120,"e5":310,"e6":350,"e7":290,"e8":50,"e9":318,"e10":90,"e11":330,"e12":210,"e13":300,"e14":340,"e15":310,"e16":315,"e17":355,"e18":320,"e19":325,"e20":140,"e21":310,"e22":60,"e23":330,"e24":20,"e25":315,"e26":345,"e27":285,"e28":40,"e29":340,"e30":100,"e31":310,"e32":320,"e33":310,"e34":325,"e35":250,"e36":345,"e37":315,"e38":200,"e39":30,"e40":315,"e41":300,"e42":330,"e43":345,"e44":320,"e45":310,"e46":320,"e47":310,"e48":260,"e49":325,"e50":50}
]},
"encoding":{"x":{"field":"t","type":"temporal","scale":{"type":"utc","domain":[{"year":2026,"month":6,"date":30,"hours":17,"minutes":24,"utc":true},{"year":2026,"month":7,"date":16,"utc":true}],"nice":false},
"axis":{"values":[1782950400000,1783036800000,1783123200000,1783209600000,1783296000000,1783382400000,1783468800000,1783555200000,1783641600000,1783728000000,1783814400000,1783900800000,1783987200000,1784073600000,1784160000000],
"labelExpr":"[['zo','ma','di','wo','do','vr','za'][utcday(datum.value)], utcFormat(datum.value, '%d-%m')]",
"title":null,"grid":false,"domain":false,"ticks":true,"tickSize":6,"tickWidth":1.5,"tickColor":"#666666","labelFontSize":16,"labelColor":"#555555","labelPadding":3,"labelLineHeight":21,"labelFlush":false,"labelOverlap":false}}},
"layer":[
{"data":{"values":[{"s":"2026-07-02T00:00Z","e":"2026-07-03T00:00Z"},{"s":"2026-07-04T00:00Z","e":"2026-07-05T00:00Z"},{"s":"2026-07-06T00:00Z","e":"2026-07-07T00:00Z"},{"s":"2026-07-08T00:00Z","e":"2026-07-09T00:00Z"},{"s":"2026-07-10T00:00Z","e":"2026-07-11T00:00Z"},{"s":"2026-07-12T00:00Z","e":"2026-07-13T00:00Z"},{"s":"2026-07-14T00:00Z","e":"2026-07-15T00:00Z"}]},
"mark":{"type":"rect","fill":"#000000","fillOpacity":0.075,"strokeWidth":0},
"encoding":{"x":{"field":"s","type":"temporal","scale":{"type":"utc","domain":[{"year":2026,"month":6,"date":30,"hours":17,"minutes":24,"utc":true},{"year":2026,"month":7,"date":16,"utc":true}],"nice":false},
"axis":{"values":[1782950400000,1783036800000,1783123200000,1783209600000,1783296000000,1783382400000,1783468800000,1783555200000,1783641600000,1783728000000,1783814400000,1783900800000,1783987200000,1784073600000,1784160000000],
"labelExpr":"[['zo','ma','di','wo','do','vr','za'][utcday(datum.value)], utcFormat(datum.value, '%d-%m')]",
"title":null,"grid":false,"domain":false,"ticks":true,"tickSize":6,"tickWidth":1.5,"tickColor":"#666666","labelFontSize":16,"labelColor":"#555555","labelPadding":3,"labelLineHeight":21,"labelFlush":false,"labelOverlap":false}},"x2":{"field":"e"}}},
{"transform":[{"fold":["e1","e2","e3","e4","e5","e6","e7","e8","e9","e10","e11","e12","e13","e14","e15","e16","e17","e18","e19","e20","e21","e22","e23","e24","e25","e26","e27","e28","e29","e30","e31","e32","e33","e34","e35","e36","e37","e38","e39","e40","e41","e42","e43","e44","e45","e46","e47","e48","e49","e50"],"as":["run","v"]}],
"mark":{"type":"line","strokeWidth":1},
"encoding":{
"y":{"field":"v","type":"quantitative","scale":{"domain":[0,360],"nice":false},
"axis":{"orient":"left","values":[0,50,100,150,200,250,300,350],"grid":true,"gridColor":"#d9d9d9","gridWidth":1,"domain":false,"ticks":false,"labelPadding":5,"labelFontSize":16,"labelColor":"#555555","title":"Gegenereerd door MeteoVPS (meteo-service.nl)","titleAngle":0,"titleAlign":"left","titleBaseline":"middle","titleX":-54,"titleY":460,"titleFontSize":13.5,"titleFontWeight":"normal","titleColor":"#8c8c8c","titleFont":"DejaVu Sans"}},
"detail":{"field":"run","type":"nominal"},
"color":{"datum":"Verstoorde runs","type":"nominal","scale":{"domain":["Verstoorde runs","Controle","Hoge resolutie","Middelste (P50)"],"range":["rgba(34,150,48,0.6)","#1a1a1a","#ff0000","#8b0000"]}},
"strokeDash":{"datum":"Verstoorde runs","type":"nominal","scale":{"domain":["Verstoorde runs","Controle","Hoge resolutie","Middelste (P50)"],"range":[[1,0],[8,4],[1,0],[5,4]]}}
}},
{"mark":{"type":"line","strokeWidth":3},
"encoding":{
"y":{"field":"c","type":"quantitative","scale":{"domain":[0,360],"nice":false},
"axis":{"orient":"right","values":[0,50,100,150,200,250,300,350],"grid":false,"domain":false,"ticks":false,"labelPadding":7,"labelFontSize":16,"labelColor":"#555555","title":"Bron: ECMWF AIFS/KNMI Ens","titleAngle":0,"titleAlign":"right","titleBaseline":"middle","titleX":56,"titleY":460,"titleFontSize":13.5,"titleFontWeight":"normal","titleColor":"#8c8c8c","titleFont":"DejaVu Sans"}},
"color":{"datum":"Controle","type":"nominal","scale":{"domain":["Verstoorde runs","Controle","Hoge resolutie","Middelste (P50)"],"range":["rgba(34,150,48,0.6)","#1a1a1a","#ff0000","#8b0000"]}},
"strokeDash":{"datum":"Controle","type":"nominal","scale":{"domain":["Verstoorde runs","Controle","Hoge resolutie","Middelste (P50)"],"range":[[1,0],[8,4],[1,0],[5,4]]}}
}},
{"mark":{"type":"line","strokeWidth":3.5},
"encoding":{
"y":{"field":"hr","type":"quantitative","scale":{"domain":[0,360],"nice":false},"axis":null},
"color":{"datum":"Hoge resolutie","type":"nominal","scale":{"domain":["Verstoorde runs","Controle","Hoge resolutie","Middelste (P50)"],"range":["rgba(34,150,48,0.6)","#1a1a1a","#ff0000","#8b0000"]}},
"strokeDash":{"datum":"Hoge resolutie","type":"nominal","scale":{"domain":["Verstoorde runs","Controle","Hoge resolutie","Middelste (P50)"],"range":[[1,0],[8,4],[1,0],[5,4]]}}
}},
{"mark":{"type":"line","strokeWidth":2.5},
"encoding":{
"y":{"field":"p","type":"quantitative","scale":{"domain":[0,360],"nice":false},"axis":null},
"color":{"datum":"Middelste (P50)","type":"nominal","scale":{"domain":["Verstoorde runs","Controle","Hoge resolutie","Middelste (P50)"],"range":["rgba(34,150,48,0.6)","#1a1a1a","#ff0000","#8b0000"]}},
"strokeDash":{"datum":"Middelste (P50)","type":"nominal","scale":{"domain":["Verstoorde runs","Controle","Hoge resolutie","Middelste (P50)"],"range":[[1,0],[8,4],[1,0],[5,4]]}}
}}
],
"resolve":{"axis":{"y":"independent"}},
"config":{"view":{"stroke":null},"font":"DejaVu Sans","axis":{"labelFont":"DejaVu Sans"},
"legend":{"title":null,"orient":"none","legendX":157,"legendY":407,"direction":"horizontal","symbolType":"stroke","symbolSize":676,"symbolStrokeWidth":2.5,"labelFontSize":17.5,"labelColor":"#000000","labelFont":"DejaVu Sans","labelOffset":13,"columnPadding":25}}
}
